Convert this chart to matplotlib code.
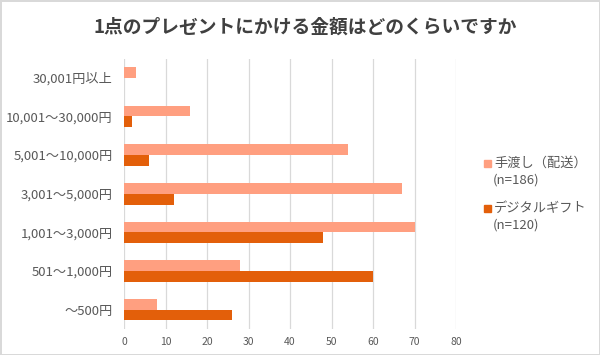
import numpy as np
import matplotlib.pyplot as plt
from matplotlib.patches import Rectangle

plt.rcParams['font.family'] = ['Noto Sans CJK JP', 'DejaVu Sans']

# categories top to bottom
categories = ["30,001円以上", "10,001～30,000円", "5,001～10,000円", "3,001～5,000円",
              "1,001～3,000円", "501～1,000円", "～500円"]
handed = [3, 16, 54, 67, 70, 28, 8]       # 手渡し（配送） n=186
digital = [0, 2, 6, 12, 48, 60, 26]       # デジタルギフト n=120
series_names = ["手渡し（配送）", "デジタルギフト"]
series_n = ["(n=186)", "(n=120)"]
colors = ["#FF9F80", "#E35F0A"]
title = "1点のプレゼントにかける金額はどのくらいですか"

fig = plt.figure(figsize=(6, 3.55), dpi=100)
fig.patch.set_edgecolor('#d9d9d9')
fig.patch.set_linewidth(2)

ax = fig.add_axes([124/600, 1-329/355, (456-124)/600, (329-58.5)/355])
y = np.arange(len(categories))
h = 0.28
ax.barh(y - h/2, handed, height=h, color=colors[0], zorder=3)
ax.barh(y + h/2, digital, height=h, color=colors[1], zorder=3)
ax.set_ylim(len(categories) - 0.5, -0.5)
ax.set_xlim(0, 80)
ax.set_xticks(np.arange(0, 81, 10))
ax.set_yticks(y)
ax.set_yticklabels(categories)
ax.tick_params(axis='y', length=0, pad=8, labelsize=9.5, labelcolor='#595959')
ax.tick_params(axis='x', length=0, pad=6, labelsize=7.5, labelcolor='#595959')
ax.grid(axis='x', color='#d9d9d9', linewidth=0.9, zorder=0)
for s in ax.spines.values():
    s.set_visible(False)

fig.text(305/600, 1-27/355, title, ha='center', va='center', fontsize=13.5,
         fontweight='bold', color='#404040')

# legend
leg_y = [163, 208]
for i in range(2):
    yy = 1 - leg_y[i]/355
    fig.add_artist(Rectangle((484/600, yy - 3.5/355), 7/600, 7/355,
                             transform=fig.transFigure, color=colors[i]))
    fig.text(494/600, yy, series_names[i], ha='left', va='center',
             fontsize=9.5, color='#595959')
    fig.text(493/600, yy - 17.5/355, series_n[i], ha='left', va='center',
             fontsize=9.5, color='#595959')

fig.savefig("out.png", dpi=100)
